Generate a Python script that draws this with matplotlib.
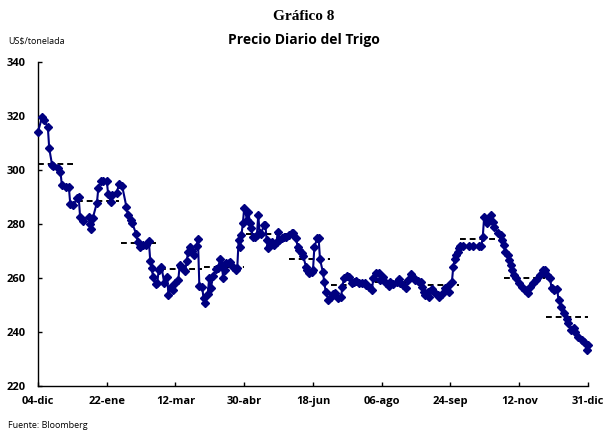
import pandas as pd
import matplotlib
matplotlib.use("Agg")
import matplotlib.pyplot as plt

# daily wheat price, days counted from 04-dic
start = pd.Timestamp("2010-12-04")
day = [0, 3, 4, 7, 8, 10, 11, 14, 16, 17, 20, 22, 23, 25, 28, 29, 30, 32, 36, 37,
       38, 39, 42, 43, 45, 46, 49, 50, 52, 53, 56, 58, 60, 63, 64, 66, 67, 70, 71, 73,
       75, 77, 79, 80, 81, 82, 84, 85, 86, 88, 90, 92, 93, 95, 96, 98, 100, 101, 102, 105,
       106, 107, 108, 110, 111, 113, 114, 115, 117, 118, 119, 121, 122, 123, 125, 127, 128, 130, 131, 132,
       133, 134, 136, 137, 139, 141, 142, 143, 144, 145, 146, 147, 149, 150, 151, 152, 153, 155, 156, 157,
       158, 159, 161, 162, 163, 164, 165, 167, 168, 170, 171, 172, 174, 175, 177, 179, 181, 182, 184, 185,
       186, 188, 189, 191, 192, 193, 195, 196, 197, 199, 200, 201, 203, 204, 205, 207, 209, 210, 212, 214,
       216, 217, 218, 220, 222, 224, 225, 227, 229, 231, 233, 234, 236, 238, 239, 241, 243, 244, 246, 248,
       250, 251, 253, 256, 257, 258, 260, 262, 264, 266, 267, 269, 271, 273, 274, 275, 276, 278, 279, 281,
       283, 285, 286, 288, 290, 292, 293, 295, 296, 297, 298, 299, 300, 301, 303, 307, 310, 314, 316, 317,
       318, 320, 321, 323, 324, 325, 328, 330, 331, 332, 333, 335, 336, 337, 338, 339, 341, 343, 345, 347,
       349, 351, 353, 355, 358, 360, 361, 363, 365, 366, 368, 370, 371, 373, 375, 377, 378, 380, 382, 383,
       385, 388, 389, 391, 392]
price = [314.2, 319.7, 318.5, 316.0, 308.0, 302.0, 301.5, 300.6, 299.4, 294.4, 293.6, 293.6, 287.4, 287.0, 289.5, 289.9, 282.7, 281.2, 282.5, 280.0,
         278.0, 282.1, 287.9, 293.2, 295.9, 296.0, 296.0, 291.1, 288.0, 290.7, 291.6, 295.0, 294.0, 286.4, 283.3, 281.5, 280.5, 276.3, 273.5, 271.4,
         272.2, 272.2, 273.7, 266.4, 263.6, 260.5, 257.8, 258.0, 263.0, 264.2, 258.0, 260.5, 253.7, 256.8, 255.6, 258.0, 259.3, 264.8, 264.2, 262.7,
         266.4, 269.7, 271.6, 270.1, 268.5, 271.9, 274.3, 257.0, 256.6, 252.5, 250.9, 254.1, 259.9, 256.2, 260.7, 263.2, 263.6, 266.9, 264.8, 259.9,
         263.0, 265.4, 265.7, 266.0, 264.2, 263.0, 263.6, 274.1, 271.6, 275.9, 280.2, 286.0, 281.5, 284.6, 280.2, 278.4, 275.3, 275.3, 275.9, 283.3,
         276.5, 276.3, 279.6, 279.6, 274.1, 271.0, 272.2, 273.5, 272.2, 273.5, 277.2, 274.1, 274.7, 275.3, 275.3, 275.9, 276.5, 276.8, 274.7, 271.6,
         270.4, 269.2, 268.1, 264.2, 263.0, 261.7, 262.3, 263.0, 271.6, 274.7, 274.7, 266.9, 262.3, 258.6, 255.0, 251.9, 252.8, 254.1, 254.5, 252.5,
         253.1, 256.8, 259.9, 260.7, 260.5, 258.0, 258.6, 259.0, 258.3, 258.0, 258.0, 257.4, 256.8, 255.6, 259.9, 262.0, 261.7, 259.3, 260.3, 258.0,
         257.0, 258.6, 257.8, 258.6, 259.5, 258.0, 257.4, 256.2, 259.3, 261.5, 260.3, 259.3, 259.0, 258.6, 256.6, 255.0, 253.7, 255.0, 253.1, 255.8,
         254.3, 253.7, 253.1, 254.1, 256.2, 257.0, 255.0, 258.6, 264.2, 266.9, 268.5, 269.7, 271.0, 271.9, 271.9, 271.9, 271.9, 271.9, 271.9, 275.3,
         282.7, 280.2, 281.2, 283.3, 280.9, 279.0, 276.5, 275.9, 274.1, 272.2, 269.7, 268.5, 266.7, 264.8, 263.0, 261.1, 259.9, 258.0, 256.8, 255.6,
         254.3, 256.8, 258.0, 259.3, 261.1, 263.0, 263.0, 261.1, 259.9, 256.2, 255.6, 255.8, 251.9, 249.4, 246.9, 245.0, 243.2, 240.7, 241.4, 240.1,
         238.3, 237.0, 236.4, 233.3, 235.2]

# monthly averages (dashed segments)
months = ["2010-12", "2011-01", "2011-02", "2011-03", "2011-04", "2011-05", "2011-06",
          "2011-07", "2011-08", "2011-09", "2011-10", "2011-11", "2011-12"]
monthly_avg = [302.1, 288.6, 272.8, 263.2, 264.2, 276.2, 267.0,
               257.4, 258.6, 257.4, 274.3, 260.1, 245.7]

tick_labels = ["04-dic", "22-ene", "12-mar", "30-abr", "18-jun",
               "06-ago", "24-sep", "12-nov", "31-dic"]

dates = start + pd.to_timedelta(day, unit="D")
end = start + pd.Timedelta(days=392)

sans = ["Open Sans", "DejaVu Sans"]

fig = plt.figure(figsize=(6.07, 4.32), dpi=100)
ax = fig.add_axes([38 / 607, 1 - 386 / 432, 550 / 607, 324 / 432])

for m, avg in zip(months, monthly_avg):
    p = pd.Period(m, freq="M")
    m0 = max(p.start_time, start)
    m1 = p.end_time.normalize()
    ax.hlines(avg, m0, m1, colors="black", linestyles=(0, (3, 2)),
              linewidth=1.4, zorder=2)

ax.plot(dates, price, color="#000080", linewidth=1.5, marker="D",
        markersize=4.3, markerfacecolor="#000080", markeredgecolor="#000080",
        zorder=3, clip_on=False)

ax.set_xlim(start, end)
ax.set_ylim(220, 340)
ax.set_yticks(range(220, 341, 20))
ax.set_xticks([start + pd.Timedelta(days=49 * i) for i in range(9)])
ax.set_xticklabels(tick_labels)

for s in ["top", "right"]:
    ax.spines[s].set_visible(False)
for s in ["left", "bottom"]:
    ax.spines[s].set_linewidth(1.0)

ax.tick_params(direction="in", length=3, width=1.0)
ax.tick_params(axis="y", pad=9)
ax.tick_params(axis="x", pad=7)
for lab in ax.get_xticklabels() + ax.get_yticklabels():
    lab.set_fontfamily(sans)
    lab.set_fontweight("bold")
    lab.set_fontsize(8)

fig.text(0.5, 1 - 16 / 432, "Gráfico 8", ha="center", va="center",
         family="Liberation Serif", weight="bold", fontsize=11)
fig.text(0.5, 1 - 40 / 432, "Precio Diario del Trigo", ha="center", va="center",
         family=sans, weight="bold", fontsize=10)
fig.text(8 / 607, 1 - 41 / 432, "US$/tonelada", ha="left", va="center",
         family=sans, fontsize=6.5)
fig.text(8 / 607, 1 - 425 / 432, "Fuente: Bloomberg", ha="left", va="center",
         family=sans, fontsize=6.5)

fig.savefig("out.png", dpi=100)
